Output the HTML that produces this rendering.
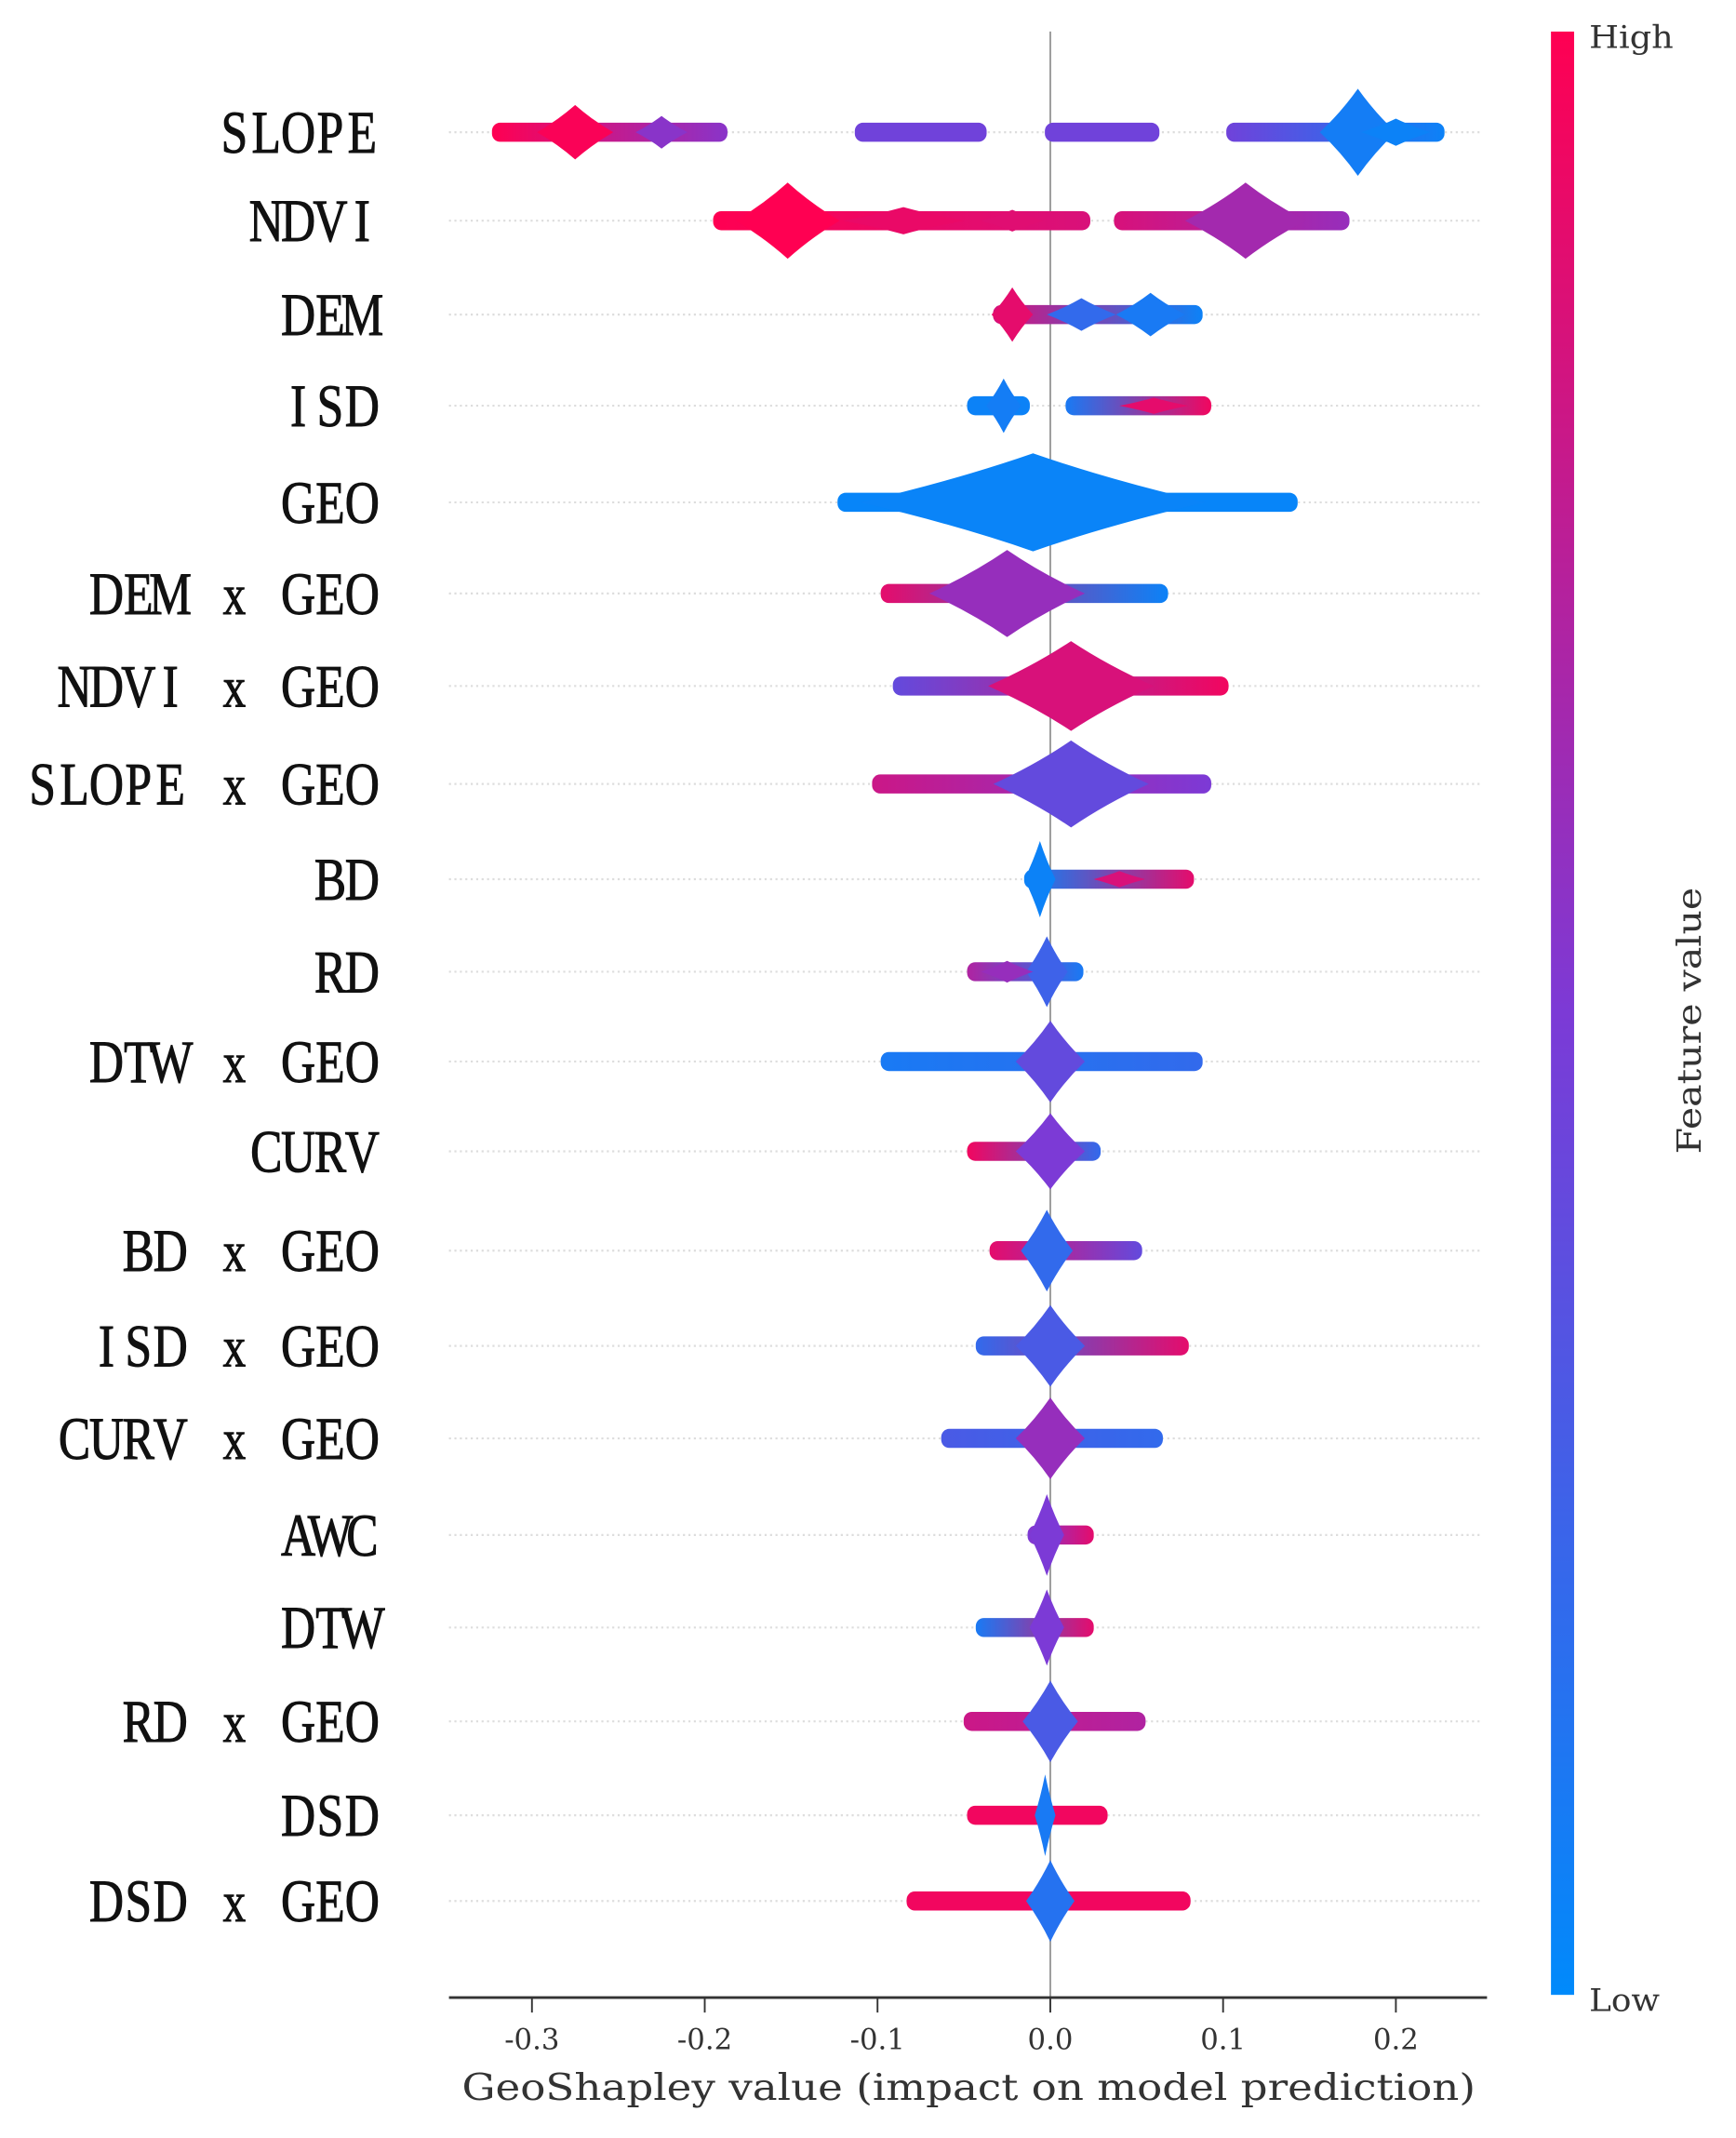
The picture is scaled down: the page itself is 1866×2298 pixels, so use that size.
<!DOCTYPE html>
<html><head><meta charset="utf-8"><style>
html,body{margin:0;padding:0;background:#fff;}
svg{display:block;}
</style></head><body>
<svg id="chart" width="1866" height="2298" viewBox="0 0 1276 1571" xmlns="http://www.w3.org/2000/svg">
<defs>
<linearGradient id="cbar" x1="0" y1="1" x2="0" y2="0">
<stop offset="0" stop-color="#008afb"/><stop offset="0.5" stop-color="#7c3ad6"/><stop offset="1" stop-color="#ff0052"/>
</linearGradient>
</defs>
<g id="grid"></g>
<line x1="772" y1="23" x2="772" y2="1468" stroke="#999" stroke-width="1.3"/>
<g id="marks"></g>
<g id="labels"></g>
<line x1="330" y1="1468" x2="1093" y2="1468" stroke="#333" stroke-width="2"/>
<g id="ticks"></g>
<text x="712" y="1543" text-anchor="middle" font-family="DejaVu Serif, Liberation Serif, serif" font-size="27" fill="#333" textLength="745" lengthAdjust="spacingAndGlyphs">GeoShapley value (impact on model prediction)</text>
<rect x="1140" y="23" width="17" height="1443" fill="url(#cbar)"/>
<text x="1168" y="35" font-family="DejaVu Serif, serif" font-size="23" fill="#333" textLength="62" lengthAdjust="spacingAndGlyphs">High</text>
<text x="1168" y="1478" font-family="DejaVu Serif, serif" font-size="23" fill="#333" textLength="52" lengthAdjust="spacingAndGlyphs">Low</text>
<text x="1250" y="750" transform="rotate(-90 1250 750)" text-anchor="middle" font-family="DejaVu Serif, serif" font-size="24" fill="#333" textLength="196" lengthAdjust="spacingAndGlyphs">Feature value</text>
</svg>
<script>
const features = ["SLOPE","NDVI","DEM","ISD","GEO","DEM x GEO","NDVI x GEO","SLOPE x GEO","BD","RD","DTW x GEO","CURV","BD x GEO","ISD x GEO","CURV x GEO","AWC","DTW","RD x GEO","DSD","DSD x GEO"];
const rowY = [97,162,231,298,369,436,504,576,646,714,780,846,919,989,1057,1128,1196,1265,1334,1397];
const tickValues = [-0.3,-0.2,-0.1,0.0,0.1,0.2];
const tickLabels = ["-0.3","-0.2","-0.1","0.0","0.1","0.2"];
// segments: [row, x0, x1, colorStart, colorEnd]
const segments = [
[0,-0.32,-0.19,1,0.55],[0,-0.11,-0.04,0.45,0.45],[0,0.0,0.06,0.45,0.45],[0,0.105,0.225,0.45,0.05],
[1,-0.192,0.02,1,0.85],[1,0.04,0.17,0.85,0.6],
[2,-0.03,0.085,0.85,0.05],
[3,-0.045,-0.015,0.05,0.05],[3,0.012,0.09,0.1,0.95],
[4,-0.12,0.14,0.03,0.03],
[5,-0.095,0.065,0.9,0.05],
[6,-0.088,0.1,0.4,0.95],
[7,-0.1,0.09,0.8,0.5],
[8,-0.012,0.08,0.05,0.9],
[9,-0.045,0.016,0.7,0.1],
[10,-0.095,0.085,0.1,0.2],
[11,-0.045,0.026,0.95,0.2],
[12,-0.032,0.05,0.9,0.4],
[13,-0.04,0.077,0.2,0.9],
[14,-0.06,0.062,0.3,0.2],
[15,-0.01,0.022,0.5,0.9],
[16,-0.04,0.022,0.1,0.9],
[17,-0.047,0.052,0.8,0.7],
[18,-0.045,0.03,0.95,0.95],
[19,-0.08,0.078,0.95,0.95]
];
// peaks: [row, center, halfWidth, halfHeightPx, colorValue]
const peaks = [
[0,-0.275,0.022,20,0.98],[0,-0.225,0.015,12,0.55],[0,0.178,0.022,32,0.08],[0,0.2,0.02,10,0.05],
[1,-0.152,0.03,28,1],[1,-0.085,0.035,10,0.92],[1,-0.022,0.018,8,0.88],[1,0.113,0.035,28,0.65],
[2,-0.022,0.012,20,0.9],[2,0.018,0.02,12,0.2],[2,0.058,0.02,16,0.1],
[3,-0.027,0.01,20,0.08],[3,0.06,0.02,6,0.9],
[4,-0.01,0.1,36,0.04],
[5,-0.025,0.045,32,0.6],
[6,0.012,0.048,33,0.85],
[7,0.012,0.045,32,0.4],
[8,-0.006,0.009,28,0.05],[8,0.04,0.015,6,0.85],
[9,-0.002,0.012,26,0.25],[9,-0.025,0.015,8,0.6],
[10,0.0,0.02,30,0.4],
[11,0.0,0.02,28,0.5],
[12,-0.002,0.015,30,0.2],
[13,0.0,0.02,30,0.3],
[14,0.0,0.02,30,0.6],
[15,-0.002,0.01,30,0.5],
[16,-0.002,0.01,28,0.5],
[17,0.0,0.016,30,0.3],
[18,-0.003,0.006,30,0.1],
[19,0.0,0.014,30,0.15]
];
const NS="http://www.w3.org/2000/svg";
const xScale = v => 772 + v*1270;
function cmap(t){
  const s=[[0,138,251],[124,58,214],[255,0,82]];
  let a,b,f; if(t<0.5){a=s[0];b=s[1];f=t/0.5;}else{a=s[1];b=s[2];f=(t-0.5)/0.5;}
  return "rgb("+a.map((c,i)=>Math.round(c+(b[i]-c)*f)).join(",")+")";
}
const grid=document.getElementById("grid"), marks=document.getElementById("marks"), labels=document.getElementById("labels"), ticks=document.getElementById("ticks"), defs=document.querySelector("defs");
const CELL=23.5;
features.forEach((f,i)=>{
  const g=document.createElementNS(NS,"line");
  g.setAttribute("x1",330);g.setAttribute("x2",1090);g.setAttribute("y1",rowY[i]);g.setAttribute("y2",rowY[i]);
  g.setAttribute("stroke","#ddd");g.setAttribute("stroke-dasharray","1.5 2.5");g.setAttribute("stroke-width","1.5");
  
  
  grid.appendChild(g);
  const lg=document.createElementNS(NS,"g");
  
  
  const x0=278-f.length*CELL;
  for(let j=0;j<f.length;j++){
    if(f[j]===" ") continue;
    const t=document.createElementNS(NS,"text");
    const cx=x0+CELL*(j+0.5), cy=rowY[i]+15;
    t.setAttribute("transform","translate("+cx+" "+cy+") scale(0.8 1)");
    t.setAttribute("text-anchor","middle");
    t.setAttribute("font-family","Liberation Serif, DejaVu Serif, serif");
    t.setAttribute("font-size", f[j]==="x" ? "42" : "44");
    t.setAttribute("fill","#111");t.setAttribute("stroke","#111");t.setAttribute("stroke-width","0.7");
    t.textContent=f[j];
    
    
    lg.appendChild(t);
  }
  labels.appendChild(lg);
});
segments.forEach((s,k)=>{
  const [r,x0,x1,c0,c1]=s;
  const gid="sg"+k, lg=document.createElementNS(NS,"linearGradient");
  lg.setAttribute("id",gid);
  [[0,c0],[1,c1]].forEach(([o,c])=>{const st=document.createElementNS(NS,"stop");st.setAttribute("offset",o);st.setAttribute("stop-color",cmap(c));lg.appendChild(st);});
  defs.appendChild(lg);
  const rc=document.createElementNS(NS,"rect");
  const a=xScale(x0)-4,b=xScale(x1)+4;
  rc.setAttribute("x",a);rc.setAttribute("width",b-a);rc.setAttribute("y",rowY[r]-7);rc.setAttribute("height",14);rc.setAttribute("rx",6);
  rc.setAttribute("fill","url(#"+gid+")");
  
  
  marks.appendChild(rc);
});
peaks.forEach(p=>{
  const [r,c,w,h,cv]=p, x=xScale(c), y=rowY[r], ww=w*1270;
  const k=0.45;
  const d="M"+(x-ww)+","+y+" Q"+(x-ww*k)+","+(y-h*k)+" "+x+","+(y-h)+" Q"+(x+ww*k)+","+(y-h*k)+" "+(x+ww)+","+y+
    " Q"+(x+ww*k)+","+(y+h*k)+" "+x+","+(y+h)+" Q"+(x-ww*k)+","+(y+h*k)+" "+(x-ww)+","+y+"Z";
  const pa=document.createElementNS(NS,"path");
  pa.setAttribute("d",d);pa.setAttribute("fill",cmap(cv));
  
  
  marks.appendChild(pa);
});
tickValues.forEach((v,i)=>{
  const x=xScale(v);
  const l=document.createElementNS(NS,"line");
  l.setAttribute("x1",x);l.setAttribute("x2",x);l.setAttribute("y1",1468);l.setAttribute("y2",1479);l.setAttribute("stroke","#333");l.setAttribute("stroke-width","1.3");
  
  
  ticks.appendChild(l);
  const t=document.createElementNS(NS,"text");
  t.setAttribute("x",x);t.setAttribute("y",1506);t.setAttribute("text-anchor","middle");
  t.setAttribute("font-family","DejaVu Serif, Liberation Serif, serif");t.setAttribute("font-size","21");t.setAttribute("fill","#333");
  t.textContent=tickLabels[i];
  
  
  ticks.appendChild(t);
});
</script>
</body></html>
